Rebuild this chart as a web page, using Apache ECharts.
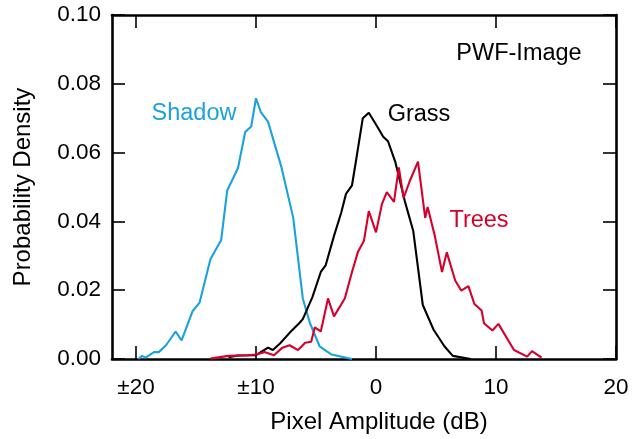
<!DOCTYPE html>
<html>
<head>
<meta charset="utf-8">
<script src="https://cdn.jsdelivr.net/npm/echarts@6/dist/echarts.min.js"></script>
<style>
  html, body { margin: 0; padding: 0; background: #fff; }
  #chart { width: 635px; height: 439px; }
</style>
</head>
<body>
<div id="chart"></div>
<script>
// ---- Data ----
const shadowData = [
  [-19.8,0.0000],[-19.5,0.0009],[-19.2,0.0004],[-18.5,0.0020],[-18.1,0.0020],[-17.5,0.0040],
  [-16.7,0.0080],[-16.2,0.0054],[-15.3,0.0138],[-14.7,0.0164],[-13.8,0.0290],[-12.9,0.0346],
  [-12.4,0.0490],[-11.5,0.0555],[-10.9,0.0660],[-10.4,0.0676],[-10.0,0.0758],[-9.6,0.0718],
  [-9.0,0.0690],[-7.9,0.0560],[-6.9,0.0411],[-6.1,0.0176],[-5.5,0.0104],[-4.7,0.0037],
  [-3.7,0.0013],[-2.0,0.0000]
];
const grassData = [
  [-12.3,0.0005],[-11.5,0.0010],[-10.0,0.0011],[-9.0,0.0033],[-8.6,0.0026],[-8.0,0.0045],
  [-7.2,0.0076],[-6.4,0.0104],[-6.1,0.0116],[-5.3,0.0180],[-4.6,0.0253],[-4.2,0.0272],
  [-3.5,0.0358],[-2.9,0.0425],[-2.5,0.0480],[-2.0,0.0505],[-1.7,0.0569],[-1.1,0.0700],
  [-0.6,0.0716],[0.05,0.0679],[0.6,0.0646],[1.0,0.0633],[1.6,0.0574],[2.4,0.0459],
  [3.1,0.0373],[3.9,0.0157],[4.8,0.0085],[5.7,0.0037],[6.4,0.0009],[7.9,0.0000]
];
const treesData = [
  [-13.8,0.0001],[-12.3,0.0009],[-10.7,0.0011],[-10.0,0.0013],[-9.3,0.0020],[-8.5,0.0011],
  [-7.8,0.0033],[-7.2,0.0040],[-6.5,0.0026],[-5.9,0.0047],[-5.4,0.0050],[-5.1,0.0092],
  [-4.6,0.0080],[-4.0,0.0176],[-3.5,0.0124],[-2.6,0.0176],[-2.0,0.0253],[-1.5,0.0312],
  [-1.0,0.0344],[-0.6,0.0430],[0.0,0.0368],[0.5,0.0451],[0.9,0.0485],[1.5,0.0457],
  [1.9,0.0557],[2.3,0.0468],[2.8,0.0516],[3.5,0.0574],[4.1,0.0410],[4.3,0.0442],
  [4.9,0.0358],[5.5,0.0253],[5.9,0.0310],[6.6,0.0228],[7.1,0.0199],[7.7,0.0212],
  [8.2,0.0160],[8.8,0.0141],[9.0,0.0104],[9.7,0.0083],[10.2,0.0102],[11.5,0.0026],
  [12.6,0.0007],[13.0,0.0023],[13.8,0.0004]
];
const xTicks = [-20, -10, 0, 10, 20];
const xTickLabels = ['\u00B120', '\u00B110', '0', '10', '20'];

// ---- Chart ----
const FONT = 'Liberation Sans, Arial, Helvetica, sans-serif';
const chart = echarts.init(document.getElementById('chart'), null, { renderer: 'canvas' });

const lineAxis = { show: true, onZero: false, lineStyle: { color: '#000', width: 2.6 } };

function xAxisDef(pos, showLabels) {
  return {
    type: 'value', position: pos, min: -22, max: 20,
    axisLine: lineAxis,
    axisTick: { show: true, inside: true, length: 13, customValues: xTicks, lineStyle: { color: '#000', width: 1.6 } },
    axisLabel: {
      show: showLabels, customValues: xTicks, margin: 17,
      color: '#000', fontSize: 22.5, fontFamily: FONT,
      formatter: v => xTickLabels[xTicks.indexOf(v)]
    },
    splitLine: { show: false },
    name: showLabels ? 'Pixel Amplitude (dB)' : '',
    nameLocation: 'middle', nameGap: 51,
    nameTextStyle: { color: '#000', fontSize: 24, fontFamily: FONT, padding: [0, 0, 0, 30] }
  };
}
function yAxisDef(pos, showLabels) {
  return {
    type: 'value', position: pos, min: 0, max: 0.1, interval: 0.02,
    axisLine: lineAxis,
    axisTick: { show: true, inside: true, length: 13, lineStyle: { color: '#000', width: 1.6 } },
    axisLabel: {
      show: showLabels, margin: 11, color: '#000', fontSize: 22.5, fontFamily: FONT,
      formatter: v => v.toFixed(2)
    },
    splitLine: { show: false },
    name: showLabels ? 'Probability Density' : '',
    nameLocation: 'middle', nameGap: 77, nameRotate: 90,
    nameTextStyle: { color: '#000', fontSize: 24, fontFamily: FONT }
  };
}

function lineSeries(name, data, color) {
  return {
    name, type: 'line', data, xAxisIndex: 0, yAxisIndex: 0,
    showSymbol: false, symbol: 'none', smooth: false,
    lineStyle: { color, width: 2.1 }, itemStyle: { color },
    z: 3
  };
}

function textEl(text, x, y, color) {
  return {
    type: 'text', x, y, z: 10,
    style: { text, fill: color, font: '23.5px ' + FONT, align: 'center', verticalAlign: 'middle' }
  };
}

chart.setOption({
  animation: false,
  backgroundColor: '#fff',
  grid: { left: 112, right: 19, top: 15, bottom: 76, containLabel: false },
  xAxis: [xAxisDef('bottom', true), xAxisDef('top', false)],
  yAxis: [yAxisDef('left', true), yAxisDef('right', false)],
  series: [
    lineSeries('Shadow', shadowData, '#1ba2de'),
    lineSeries('Grass', grassData, '#000000'),
    lineSeries('Trees', treesData, '#d6002b')
  ],
  graphic: [
    textEl('PWF-Image', 519, 54, '#000'),
    textEl('Shadow', 194, 114, '#1ba2de'),
    textEl('Grass', 419, 115, '#000'),
    textEl('Trees', 479, 221, '#d6002b')
  ]
});
</script>
</body>
</html>
